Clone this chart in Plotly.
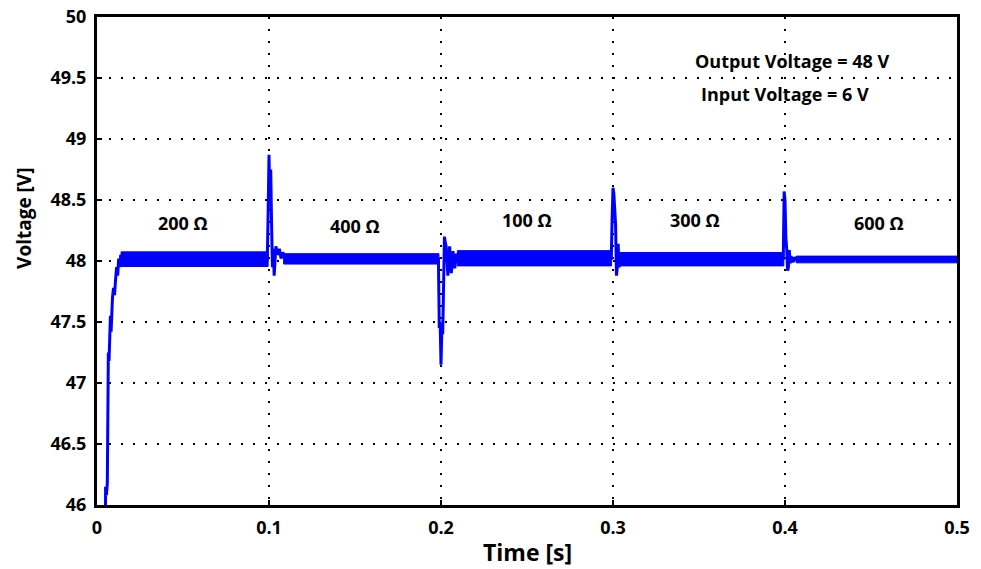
import plotly.graph_objects as go

# ---- data ----
# transient / start-up samples of the output voltage (s, V)
trans_t = [0.0040, 0.0048, 0.0050, 0.0055, 0.0060, 0.0063, 0.0066, 0.0070, 0.0074, 0.0078,
           0.0082, 0.0086, 0.0090, 0.0096, 0.0102, 0.0108, 0.0114, 0.0120, 0.0126, 0.0132,
           0.0138, 0.0145, 0.0200, 0.0600, 0.0990,
           0.0995, 0.1000, 0.1005, 0.1010, 0.1015, 0.1020, 0.1025, 0.1030, 0.1040, 0.1050,
           0.1060, 0.1070, 0.1080, 0.1100, 0.1500, 0.1985,
           0.1990, 0.1995, 0.2000, 0.2005, 0.2010, 0.2015, 0.2020, 0.2025, 0.2030, 0.2040,
           0.2050, 0.2060, 0.2070, 0.2080, 0.2090, 0.2100, 0.2500, 0.2990,
           0.2995, 0.3000, 0.3005, 0.3010, 0.3015, 0.3020, 0.3025, 0.3030, 0.3035, 0.3045,
           0.3500, 0.3990,
           0.3995, 0.4000, 0.4005, 0.4010, 0.4015, 0.4020, 0.4025, 0.4030, 0.4035, 0.4045,
           0.4055, 0.4065, 0.4500, 0.5000]
trans_v = [45.00, 45.60, 46.15, 46.08, 46.18, 47.00, 47.25, 47.18, 47.30, 47.55,
           47.42, 47.58, 47.70, 47.78, 47.72, 47.85, 47.95, 47.88, 48.02, 47.95,
           48.05, 48.00, 48.01, 48.01, 48.01,
           48.40, 48.87, 48.50, 48.75, 48.30, 47.95, 48.10, 47.88, 48.12, 48.05,
           48.10, 48.02, 48.07, 48.02, 48.02, 48.02,
           47.45, 47.50, 47.15, 47.45, 47.40, 48.05, 48.20, 48.15, 48.12, 47.88,
           48.12, 47.90, 48.08, 47.94, 48.06, 48.02, 48.02, 48.02,
           48.35, 48.60, 48.55, 48.35, 48.30, 47.88, 47.95, 48.14, 47.95, 48.02,
           48.02, 48.02,
           48.57, 48.50, 48.19, 48.10, 47.92, 47.95, 48.09, 47.98, 48.04, 47.99,
           48.03, 48.01, 48.01, 48.01]

# steady-state ripple bands per load
load_labels = ["200 Ω", "400 Ω", "100 Ω", "300 Ω", "600 Ω"]
band_start = [0.0140, 0.1085, 0.2095, 0.3040, 0.4065]
band_end = [0.0995, 0.1988, 0.2992, 0.3993, 0.5000]
band_hi = [48.075, 48.060, 48.085, 48.070, 48.040]
band_lo = [47.955, 47.975, 47.960, 47.960, 47.985]
label_x = [0.050, 0.150, 0.250, 0.3477, 0.4547]
label_y = [48.31, 48.29, 48.34, 48.34, 48.31]

x_ticks = [0, 0.1, 0.2, 0.3, 0.4, 0.5]
x_ticktext = ["0", "0.1", "0.2", "0.3", "0.4", "0.5"]
y_ticks = [46, 46.5, 47, 47.5, 48, 48.5, 49, 49.5, 50]
y_ticktext = ["46", "46.5", "47", "47.5", "48", "48.5", "49", "49.5", "50"]

BLUE = "rgb(0,0,255)"
FONT = "Open Sans"

fig = go.Figure()

for s, e, hi, lo in zip(band_start, band_end, band_hi, band_lo):
    fig.add_trace(go.Scatter(
        x=[s, e, e, s, s], y=[hi, hi, lo, lo, hi],
        mode="lines", fill="toself", fillcolor=BLUE,
        line=dict(color=BLUE, width=1), hoverinfo="skip", showlegend=False))

fig.add_trace(go.Scatter(x=trans_t, y=trans_v, mode="lines",
                         line=dict(color=BLUE, width=3), showlegend=False))

for lx, ly, txt in zip(label_x, label_y, load_labels):
    fig.add_annotation(x=lx, y=ly, text=txt, showarrow=False,
                       font=dict(family=FONT, size=18, color="black", weight="bold"))

fig.add_annotation(x=0.404, y=49.64, text="Output Voltage = 48 V", showarrow=False,
                   font=dict(family=FONT, size=18, color="black", weight="bold"))
fig.add_annotation(x=0.400, y=49.37, text="Input Voltage = 6 V", showarrow=False,
                   font=dict(family=FONT, size=18, color="black", weight="bold"))

fig.add_annotation(xref="paper", yref="paper", x=-0.085, y=0.588, text="Voltage [V]",
                   textangle=-90, showarrow=False, xanchor="center", yanchor="middle",
                   font=dict(family=FONT, size=19, color="black", weight="bold"))
fig.add_annotation(xref="paper", yref="paper", x=0.5, y=-0.096, text="Time [s]",
                   showarrow=False, xanchor="center", yanchor="middle",
                   font=dict(family=FONT, size=23, color="black", weight="bold"))

axis_common = dict(
    showline=True, linecolor="black", linewidth=3, mirror=True,
    ticks="inside", ticklen=5, tickwidth=2, tickcolor="black",
    showgrid=True, gridcolor="black", gridwidth=1.5, griddash="2px,10px",
    zeroline=False, automargin=False,
    tickfont=dict(family=FONT, size=18, color="black", weight="bold"),
)

fig.update_xaxes(range=[0, 0.5], tickvals=x_ticks, ticktext=x_ticktext,
                 ticklabelstandoff=4, **axis_common)
fig.update_yaxes(range=[46, 50], tickvals=y_ticks, ticktext=y_ticktext,
                 ticklabelstandoff=4, **axis_common)

fig.update_layout(
    width=981, height=569,
    margin=dict(l=97, r=24, t=17, b=64),
    plot_bgcolor="white", paper_bgcolor="white",
    showlegend=False,
)

fig.write_html("out.html")
